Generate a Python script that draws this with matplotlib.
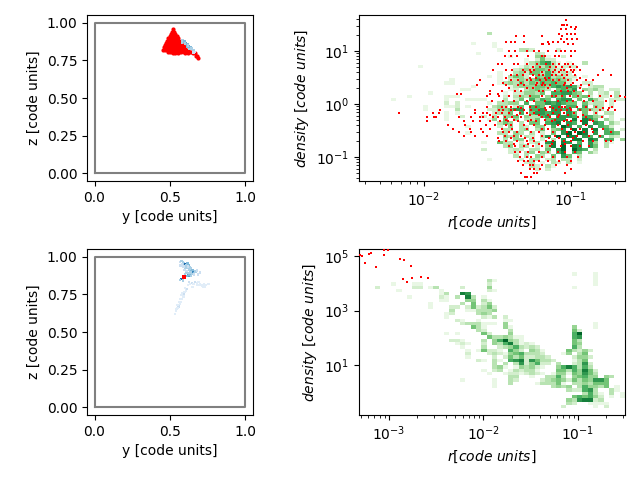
import numpy as np
import matplotlib
matplotlib.use('Agg')
import matplotlib.pyplot as plt

# limites de los ejes
top_xlim = (10**-2.442, 10**-0.633)
top_ylim = (10**-1.453, 10**1.68)
bot_xlim = (10**-3.317, 10**-0.503)
bot_ylim = (10**-0.83, 10**5.257)

# densidad (fila: [(columna inicial, digitos)]), espacio = celda vacia
top_hist = {
    5: [(24, "3")],
    8: [(21, "1"), (25, "1")],
    9: [(25, "1")],
    10: [(26, "1"), (30, "332"), (37, "2")],
    11: [(22, "1"), (33, "32")],
    12: [(28, "1"), (33, "451"), (38, "2")],
    13: [(31, "1"), (33, "2522")],
    14: [(31, "1346731 1"), (42, "3")],
    15: [(11, "1"), (30, "13243531222")],
    16: [(29, "2343554322 1")],
    17: [(26, "1"), (29, "34255363232")],
    18: [(24, "1 1 3542 54634322 1")],
    19: [(17, "1"), (26, "1 2343465645431")],
    20: [(16, "11"), (26, "13435354656552  22")],
    21: [(21, "1"), (28, "13444554676762 233")],
    22: [(19, "11"), (28, "12 34543 5657 4342 22")],
    23: [(13, "1"), (27, "1 224435 667754 3 23 3")],
    24: [(9, "1"), (16, "111"), (27, "2 34355 4646 5452 22 3")],
    25: [(6, "1"), (16, "1"), (20, "1111"), (27, "3 25 6365 677 5 642 222")],
    26: [(16, "2"), (18, "2"), (24, "1 3344 6 55767655 5233 2")],
    27: [(12, "1"), (16, "11"), (18, "2 1"), (25, "343 25 665 77 66 6 43 2")],
    28: [(12, "1"), (18, "3"), (24, "2244577 667 7767 65433")],
    29: [(16, "1"), (18, "1"), (25, "2335 6 577677 75 5 3 33")],
    30: [(16, "1"), (19, "2"), (23, "2 3 445 43367 7776 6643 2")],
    31: [(16, "1"), (24, "14 5 4 335 5677 8 875 42 2")],
    32: [(26, "354 3 55 678 76 8 76 42")],
    33: [(20, "1"), (26, "2 4 32 44 6 97 6 7 652")],
    34: [(27, "33 34 35 457 9 8 8 65 2")],
    35: [(20, "1"), (26, "33 43 3 2 5 79 98 7 665")],
    36: [(27, "434 32 37 9 88 76 6 32")],
    37: [(27, "3 44 3 2 3 7 88 87 66 42")],
    38: [(23, "1"), (26, "533 2 23 78 87 6 74 31")],
    39: [(27, "34 33 2 48 9 87 75 3")],
    40: [(23, "2"), (28, "232 33 5 79 976 3")],
    41: [(28, "22 34 43 68 65 42")],
    42: [(29, "3 3 43 5 75 3")],
    43: [(24, "1"), (30, "2 33 23 33 2")],
    44: [(31, "23 1 32 3 1")],
    45: [(32, "32 31")],
    46: [(33, "2 2")],
}

bot_hist = {
    7: {40: 1, 44: 1},
    8: {44: 1},
    9: {24: 3, 25: 1, 44: 1},
    10: {6: 1, 10: 1, 11: 1, 24: 2, 44: 1},
    11: {3: 2, 10: 2, 11: 2, 13: 1, 14: 3, 19: 2, 24: 4, 40: 1},
    12: {7: 1, 15: 1, 24: 2, 25: 1},
    13: {15: 1, 16: 3, 19: 8, 20: 7},
    14: {9: 1, 15: 2, 16: 1, 18: 3, 20: 8, 21: 3, 23: 1},
    15: {15: 1, 16: 1, 20: 4, 21: 4, 23: 3, 24: 1},
    16: {13: 1, 19: 3, 21: 5, 23: 2, 24: 4},
    17: {13: 1, 17: 2, 18: 2, 20: 2, 21: 5, 22: 2, 23: 3, 24: 5, 25: 2},
    18: {17: 3, 20: 1, 21: 1, 22: 3, 23: 3, 24: 3, 25: 4},
    19: {16: 1, 17: 2, 22: 3, 23: 4, 24: 3},
    20: {16: 1, 23: 2, 24: 1, 25: 3, 27: 2},
    21: {18: 2, 19: 1, 22: 1, 27: 1, 28: 1},
    22: {19: 2, 20: 3, 21: 3, 22: 3, 23: 1, 24: 1, 25: 1, 27: 4, 44: 1},
    23: {21: 5, 22: 3, 23: 1, 27: 4, 28: 1, 40: 4, 44: 1},
    24: {22: 3, 23: 2, 28: 3, 40: 5, 41: 2},
    25: {16: 1, 18: 1, 23: 5, 24: 2, 28: 4, 40: 6, 41: 9},
    26: {24: 5, 25: 3, 26: 3, 27: 4, 28: 3, 29: 1, 30: 1, 40: 6, 41: 7},
    27: {17: 2, 18: 2, 19: 1, 23: 3, 25: 4, 26: 6, 27: 9, 28: 4, 29: 3, 30: 1, 40: 5, 41: 3},
    28: {18: 1, 19: 2, 20: 1, 23: 2, 25: 4, 26: 3, 27: 6, 28: 8, 29: 3, 30: 1, 31: 2, 32: 1, 40: 5, 41: 4},
    29: {19: 1, 23: 3, 26: 2, 27: 3, 28: 4, 29: 6, 30: 3, 31: 2, 32: 3, 33: 2, 40: 6, 41: 3},
    30: {20: 1, 22: 1, 23: 5, 24: 2, 25: 2, 26: 1, 28: 6, 29: 4, 30: 2, 32: 4, 33: 3, 34: 1, 39: 5, 40: 3, 41: 2, 42: 4, 43: 2},
    31: {20: 2, 24: 2, 25: 3, 26: 2, 27: 1, 28: 4, 29: 5, 30: 6, 31: 3, 32: 3, 33: 3, 34: 2, 38: 1, 39: 4, 41: 3, 42: 5},
    32: {20: 1, 25: 2, 27: 2, 28: 5, 29: 3, 30: 5, 31: 2, 32: 2, 33: 3, 34: 3, 35: 2, 40: 2, 41: 4, 42: 4, 43: 2},
    33: {22: 2, 23: 1, 25: 3, 26: 1, 28: 6, 29: 7, 30: 8, 31: 2, 32: 7, 33: 5, 34: 3, 35: 3, 36: 2, 40: 1, 41: 3, 42: 5},
    34: {25: 3, 27: 3, 29: 3, 30: 7, 31: 2, 32: 4, 33: 6, 34: 2, 35: 2, 37: 3, 40: 2, 41: 3, 42: 7, 43: 2},
    35: {25: 3, 26: 4, 27: 1, 29: 1, 30: 4, 31: 3, 32: 4, 33: 2, 34: 1, 37: 4, 38: 6, 39: 8, 40: 6, 41: 3, 42: 6, 43: 3},
    36: {23: 1, 25: 2, 26: 3, 28: 1, 29: 3, 30: 2, 31: 3, 32: 3, 33: 1, 37: 5, 38: 5, 39: 3, 40: 6, 41: 4, 42: 8, 43: 5, 44: 2},
    37: {24: 1, 27: 1, 28: 2, 29: 2, 30: 1, 31: 2, 32: 3, 33: 2, 34: 1, 36: 1, 37: 4, 38: 4, 39: 1, 40: 5, 41: 4, 42: 7, 43: 5, 44: 3},
    38: {28: 3, 29: 3, 32: 1, 35: 3, 36: 3, 37: 6, 38: 3, 40: 4, 41: 5, 42: 6, 43: 4, 44: 4, 46: 4, 47: 3},
    39: {19: 1, 25: 1, 28: 3, 29: 2, 34: 2, 35: 3, 36: 4, 37: 5, 38: 4, 39: 2, 40: 5, 41: 3, 42: 5, 43: 4, 44: 7, 45: 7, 46: 5},
    40: {25: 1, 28: 3, 33: 1, 34: 3, 35: 3, 36: 3, 37: 5, 38: 1, 40: 3, 41: 3, 42: 4, 43: 3, 44: 5, 45: 5, 46: 5},
    41: {25: 1, 36: 3, 37: 4, 38: 3, 39: 4, 41: 3, 42: 6, 43: 4, 44: 4, 45: 3, 46: 5, 48: 1},
    42: {39: 3, 40: 2, 41: 2, 42: 6, 43: 7, 44: 3, 47: 3, 48: 1},
    43: {42: 3, 43: 6, 44: 3, 45: 1, 47: 3, 49: 1},
    44: {40: 5, 41: 6, 42: 5, 43: 6, 44: 4, 45: 2, 47: 1, 49: 1},
    45: {39: 4, 40: 3, 41: 7, 42: 8, 43: 8, 44: 2, 45: 3},
    46: {39: 3, 40: 2, 43: 1, 44: 1, 45: 1, 46: 1},
    47: {38: 2, 44: 1, 46: 2},
}

# puntos rojos arriba: log10(densidad) -> lista de log10(r)
top_red = {
    1.58: [-1.033],
    1.50: [-1.063, -1.047, -1.03],
    1.46: [-1.00, -0.968],
    1.41: [-1.07, -1.035, -0.97],
    1.33: [-1.08, -1.03, -1.0, -0.97],
    1.29: [-1.375, -1.32, -1.197, -1.06],
    1.22: [-1.07, -1.03, -0.995, -0.96],
    1.17: [-1.38, -1.41, -1.44, -1.32, -1.16, -1.12, -1.09, -1.045],
    1.14: [-1.2, -1.19, -1.15, -1.02, -0.99],
    1.0: [-1.42, -1.38, -1.3, -1.25, -1.22, -1.16, -1.1, -1.07, -1.04, -1.0, -0.97],
    0.9: [-1.45, -1.41, -1.37, -1.29, -1.2, -1.18, -1.11, -1.08, -1.0],
    0.75: [-1.5, -1.47, -1.39, -1.36, -1.3, -1.23, -1.17, -1.12, -1.08, -1.04, -1.02, -0.99],
    0.7: [-1.26, -1.21, -1.14, -1.1, -1.06, -1.01, -0.96],
    0.65: [-1.53, -1.44, -1.4, -1.33, -1.28, -1.25, -1.15, -1.11, -1.07, -1.05, -1.0, -0.98, -0.94, -0.78],
    0.6: [-1.31, -1.27, -1.2, -1.12, -1.08, -1.03, -0.99],
    0.55: [-1.41, -1.37, -1.33, -1.26, -1.22, -1.19, -1.13, -1.1, -1.06, -1.03, -0.97, -0.82, -0.73],
    0.5: [-1.44, -1.28, -1.24, -1.18, -1.15, -1.05, -0.94],
    0.45: [-1.62, -1.41, -1.36, -1.3, -1.27, -1.21, -1.17, -1.12, -1.08, -1.02, -0.96, -0.9, -0.85],
    0.39: [-1.46, -1.34, -1.23, -1.19, -1.1, -1.04, -0.99],
    0.35: [-1.64, -1.53, -1.44, -1.36, -1.32, -1.24, -1.2, -1.18, -1.14, -1.05, -1.0, -0.93, -0.88],
    0.3: [-1.42, -1.3, -1.26, -1.16, -1.03, -0.94],
    0.25: [-1.55, -1.47, -1.38, -1.34, -1.22, -1.19, -1.11, -1.07, -1.02, -0.98, -0.92],
    0.19: [-1.775, -1.75, -1.55, -1.5],
    0.15: [-1.57, -1.49, -1.42, -1.35, -1.28, -1.2, -1.13, -1.1, -1.06, -1.01, -0.95, -0.88, -0.8, -0.73, -0.67],
    0.126: [-0.632],
    0.05: [-1.54, -1.46, -1.39, -1.3, -1.25, -1.18, -1.09, -1.03, -0.99, -0.91, -0.85, -0.76, -0.7],
    -0.05: [-1.57, -1.47, -1.44, -1.41, -1.36, -1.28, -1.24, -1.14, -1.08, -1.06, -1.04, -0.96, -0.9, -0.83, -0.72],
    -0.08: [-1.34, -1.18, -1.12, -1.01, -0.78, -0.74],
    -0.12: [-1.89, -1.65, -1.49, -1.46, -1.41, -1.38, -1.32, -1.27, -1.22, -1.17, -1.1, -1.07, -1.03, -1.0, -0.94, -0.87, -0.8, -0.75, -0.7],
    -0.17: [-2.17, -1.94, -1.9, -1.65, -1.6, -1.57, -1.51, -1.47, -1.42, -1.35, -1.3, -1.25, -1.12, -1.05, -0.98, -0.83],
    -0.21: [-1.55, -1.37, -1.28, -1.22, -1.16, -1.08, -1.02, -0.92],
    -0.25: [-1.98, -1.93, -1.92, -1.76, -1.68, -1.62, -1.6, -1.53, -1.5, -1.45, -1.4, -1.34, -1.2, -1.14, -1.09, -0.95, -0.9, -0.79],
    -0.3: [-1.44, -1.39, -1.27, -1.18, -1.11, -1.03, -0.87],
    -0.33: [-1.98, -1.73, -1.67, -1.62, -1.55, -1.48, -1.43, -1.36, -1.29, -1.24, -1.13, -1.05, -1.0, -0.93, -0.85],
    -0.4: [-1.84, -1.72, -1.58, -1.52, -1.44, -1.41, -1.32, -1.25, -1.18, -1.09, -1.02, -0.9],
    -0.47: [-1.8, -1.69, -1.61, -1.55, -1.47, -1.4, -1.3, -1.2, -1.16, -1.06, -1.0, -0.94, -0.86, -0.78],
    -0.53: [-1.76, -1.68, -1.6, -1.46, -1.42, -1.37, -1.27, -1.22, -1.12, -1.03, -0.97, -0.91, -0.85, -0.73],
    -0.6: [-1.73, -1.65, -1.57, -1.45, -1.39, -1.34, -1.2, -1.11, -1.02, -0.96, -0.88, -0.8],
    -0.65: [-1.5, -1.41, -1.31, -1.26, -1.15, -1.08, -0.99],
    -0.7: [-1.49, -1.44, -1.37, -1.3, -1.25, -1.17, -1.12, -1.05, -1.0, -0.92, -0.85, -0.76, -0.73],
    -0.75: [-1.39, -1.29, -1.22, -1.13, -1.04],
    -0.8: [-1.42, -1.38, -1.32, -1.26, -1.2, -1.14, -1.07, -1.0, -0.94, -0.88],
    -0.9: [-1.38, -1.35, -1.29, -1.22, -1.16, -1.09, -1.04, -0.97],
    -1.0: [-1.35, -1.3, -1.27, -1.2, -1.12, -1.03, -0.95],
    -1.08: [-1.36, -1.32, -1.29, -1.25, -1.22, -1.16, -1.08, -1.0],
    -1.15: [-1.33, -1.28, -1.26, -1.2, -1.1, -1.03],
    -1.22: [-1.28, -1.25, -1.21, -1.0],
    -1.3: [-1.34, -1.25, -1.23, -1.04],
    -1.37: [-1.31, -1.27, -1.3],
}

# puntos rojos abajo
bot_red_logr = [-3.307, -3.289, -3.254, -3.25, -3.212, -3.194, -3.141, -3.053, -3.053, -3.007,
                -2.884, -2.841, -2.767, -2.855, -2.813, -2.757, -2.662, -2.587]
bot_red_logd = [5.037, 5.0, 4.756, 4.73, 5.074, 5.11, 4.609, 5.037, 5.233, 5.233,
                4.89, 4.854, 4.646, 4.169, 4.058, 4.205, 4.242, 4.205]

# panel superior izquierdo: (z, lista de y) y celdas azules
left_top_red = {
    0.955: [.518],
    0.94: [.512, .525],
    0.925: [.505, .52, .535],
    0.91: [.50, .515, .53, .545],
    0.895: [.49, .505, .52, .535, .55],
    0.88: [.483, .498, .513, .528, .543, .558],
    0.865: [.475, .49, .505, .52, .535, .55, .565],
    0.85: [.465, .48, .495, .51, .525, .54, .555, .57, .585],
    0.835: [.458, .47, .485, .50, .515, .53, .545, .56, .575, .59, .60],
    0.82: [.456, .47, .482, .497, .512, .527, .542, .557, .572, .587, .602, .617],
    0.805: [.485, .50, .515, .53, .545, .56, .575, .59, .605, .625, .64],
    0.795: [.52, .535, .55, .60, .62, .65, .665],
    0.78: [.67, .68],
    0.767: [.687],
}
left_top_blue_y = [.585, .595, .605, .615, .625, .635, .645, .655, .60, .615, .63, .62, .64, .655, .665, .58]
left_top_blue_z = [.885, .875, .865, .855, .845, .835, .825, .815, .86, .84, .825, .85, .83, .80, .805, .87]
left_top_blue_v = [3, 4, 5, 4, 5, 4, 3, 3, 3, 4, 3, 3, 3, 2, 2, 3]

# panel inferior izquierdo
left_bot_y = [.533, .54, .548, .556, .566, .572, .58, .589, .595, .605, .611, .55, .56, .575, .59,
              .566, .575, .585, .593, .60, .608, .615, .622, .628, .633, .64, .648, .655, .66, .67, .677,
              .622, .63, .64, .612, .60, .58, .571, .565, .585, .60, .61,
              .625, .633, .645, .655, .666, .68, .695, .711, .725, .74, .755, .69, .72,
              .60, .59, .615, .625, .645, .685, .70,
              .58, .57, .605, .62, .635, .63, .65, .665, .66, .64, .61, .595,
              .54, .55, .565, .58, .60, .62, .65, .68, .70, .73]
left_bot_z = [.62, .64, .655, .67, .687, .70, .72, .753, .765, .775, .786, .66, .70, .745, .735,
              .963, .97, .96, .955, .952, .945, .955, .941, .93, .908, .905, .90, .897, .89, .90, .908,
              .874, .88, .87, .87, .865, .85, .852, .845, .84, .885, .895,
              .83, .819, .825, .82, .83, .815, .81, .808, .815, .81, .819, .83, .80,
              .92, .935, .925, .915, .885, .88, .895,
              .95, .94, .94, .935, .92, .89, .91, .905, .88, .895, .905, .91,
              .65, .68, .72, .76, .79, .81, .80, .825, .82, .80]
left_bot_v = [1, 1, 1, 2, 1, 1, 1, 2, 1, 1, 2, 1, 1, 1, 1,
              2, 3, 3, 3, 7, 4, 4, 4, 3, 3, 4, 5, 6, 4, 3, 2,
              5, 4, 3, 4, 5, 4, 7, 3, 3, 3, 3,
              2, 1, 2, 1, 2, 1, 1, 1, 1, 1, 1, 1, 1,
              3, 2, 3, 3, 3, 2, 2,
              2, 2, 3, 2, 3, 3, 4, 3, 2, 3, 2, 2,
              1, 1, 1, 1, 1, 1, 1, 1, 1, 1]
left_bot_red_y = [.585, .592, .60, .585, .592, .60]
left_bot_red_z = [.857, .857, .857, .868, .868, .868]

box_y = [0, 1, 1, 0, 0]
box_z = [0, 0, 1, 1, 0]


def build_top():
    grid = np.zeros((50, 50))
    for row, parts in top_hist.items():
        for start, digits in parts:
            for i, d in enumerate(digits):
                if d != ' ' and start + i < 50:
                    grid[row, start + i] = int(d)
    return grid


def build_bot():
    grid = np.zeros((50, 50))
    for row, cells in bot_hist.items():
        for col, val in cells.items():
            grid[row, col] = val
    return grid


def draw_heat(ax, grid, xlim, ylim):
    xe = np.geomspace(xlim[0], xlim[1], 51)
    ye = np.geomspace(ylim[1], ylim[0], 51)
    ax.pcolormesh(xe, ye, np.ma.masked_equal(grid, 0), cmap='Greens', vmin=0, vmax=10)
    ax.set_xscale('log')
    ax.set_yscale('log')
    ax.set_xlim(xlim)
    ax.set_ylim(ylim)
    ax.set_xlabel(r'$r [code\ units]$')
    ax.set_ylabel(r'$density\ [code\ units]$')


def draw_box(ax):
    ax.plot(box_y, box_z, color='gray', lw=1.5, zorder=1)
    ax.set_xlim(-0.05, 1.05)
    ax.set_ylim(-0.05, 1.05)
    ax.set_xticks([0, 0.5, 1])
    ax.set_yticks([0, 0.25, 0.5, 0.75, 1])
    ax.set_xlabel('y [code units]')
    ax.set_ylabel('z [code units]')


W, H = 640.0, 480.0
fig = plt.figure(figsize=(6.4, 4.8), dpi=100)
ax1 = fig.add_axes([87 / W, 1 - 181 / H, 166 / W, 166 / H])
ax2 = fig.add_axes([359 / W, 1 - 181 / H, 266 / W, 166 / H])
ax3 = fig.add_axes([87 / W, 1 - 415 / H, 166 / W, 166 / H])
ax4 = fig.add_axes([359 / W, 1 - 415 / H, 266 / W, 166 / H])

# arriba izquierda
draw_box(ax1)
ax1.scatter(left_top_blue_y, left_top_blue_z, c=left_top_blue_v, cmap='Blues', vmin=0, vmax=9,
            marker='s', s=4, linewidths=0, zorder=4)
lt_y = []
lt_z = []
for z, ys in left_top_red.items():
    for y in ys:
        lt_y.append(y)
        lt_z.append(z)
ax1.scatter(lt_y, lt_z, c='red', marker='o', s=9, linewidths=0, zorder=3)

# arriba derecha
draw_heat(ax2, build_top(), top_xlim, top_ylim)
tr_r = []
tr_d = []
for logd, rs in top_red.items():
    for logr in rs:
        tr_r.append(10**logr)
        tr_d.append(10**logd)
ax2.scatter(tr_r, tr_d, c='red', marker='s', s=3.5, linewidths=0, zorder=3)

# abajo izquierda
draw_box(ax3)
ax3.scatter(left_bot_y, left_bot_z, c=left_bot_v, cmap='Blues', vmin=0, vmax=9,
            marker='s', s=3, linewidths=0, zorder=2)
ax3.scatter(left_bot_red_y, left_bot_red_z, c='red', marker='s', s=3, linewidths=0, zorder=3)

# abajo derecha
draw_heat(ax4, build_bot(), bot_xlim, bot_ylim)
ax4.scatter(10**np.array(bot_red_logr), 10**np.array(bot_red_logd), c='red', marker='s', s=3.5, linewidths=0, zorder=3)
ax4.set_yticks([1e1, 1e3, 1e5])

fig.savefig('out.png', dpi=100)
